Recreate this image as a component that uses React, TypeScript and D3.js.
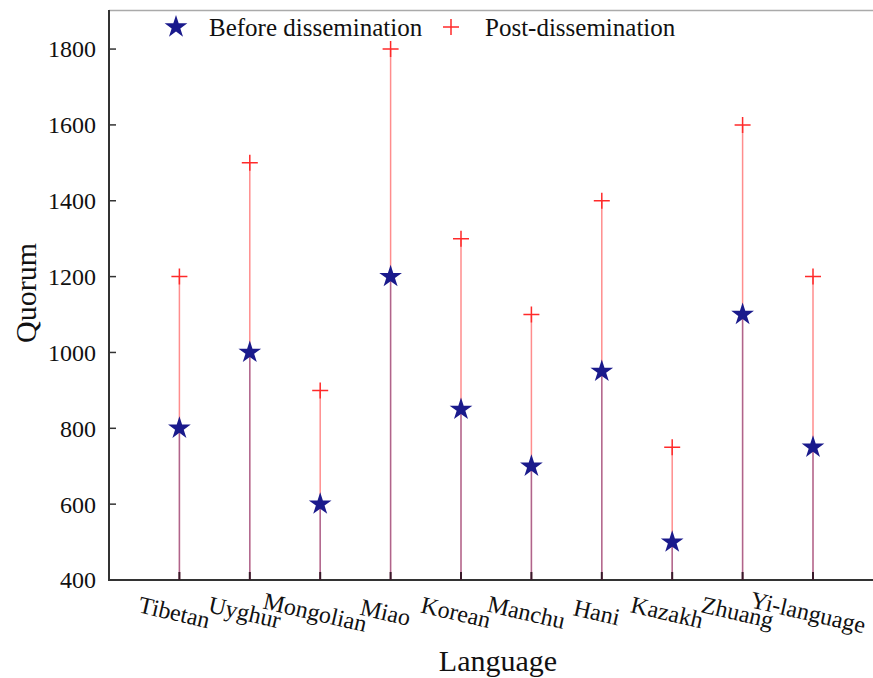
import React, { useEffect, useRef } from 'react';
import * as d3 from 'd3';

const languages = ['Tibetan', 'Uyghur', 'Mongolian', 'Miao', 'Korean', 'Manchu', 'Hani', 'Kazakh', 'Zhuang', 'Yi-language'];
const beforeValues = [800, 1000, 600, 1200, 850, 700, 950, 500, 1100, 750];
const postValues = [1200, 1500, 900, 1800, 1300, 1100, 1400, 750, 1600, 1200];
const yTicks = [400, 600, 800, 1000, 1200, 1400, 1600, 1800];

const App = () => {
  const svgRef = useRef<SVGSVGElement>(null);

  useEffect(() => {
    const width = 873;
    const height = 678;
    const svg = d3.select(svgRef.current);
    svg.selectAll('*').remove();

    const margin = { top: 10, left: 109, bottom: 98 };
    const plotBottom = height - margin.bottom;
    const font = '"Liberation Serif", "Times New Roman", serif';

    // points sit at 1..10, axis runs 0..11 (right edge cut off like the original)
    const x = d3.scaleLinear().domain([0, 11]).range([margin.left, margin.left + 70.4 * 11]);
    const y = d3.scaleLinear().domain([400, 1903]).range([plotBottom, margin.top]);

    const g = svg.append('g');

    // top frame line
    g.append('line')
      .attr('x1', margin.left).attr('x2', width)
      .attr('y1', margin.top + 0.5).attr('y2', margin.top + 0.5)
      .attr('stroke', '#aaa').attr('stroke-width', 1.5);

    // stems
    const idx = d3.range(languages.length);
    g.selectAll('.stem-post')
      .data(idx)
      .enter().append('line')
      .attr('x1', i => x(i + 1)).attr('x2', i => x(i + 1))
      .attr('y1', y(400)).attr('y2', i => y(postValues[i]))
      .attr('stroke', '#ff3030').attr('stroke-opacity', 0.55).attr('stroke-width', 1.5);

    g.selectAll('.stem-before')
      .data(idx)
      .enter().append('line')
      .attr('x1', i => x(i + 1)).attr('x2', i => x(i + 1))
      .attr('y1', y(400)).attr('y2', i => y(beforeValues[i]))
      .attr('stroke', '#1a1a8c').attr('stroke-opacity', 0.35).attr('stroke-width', 1.5);

    // axes
    g.append('line')
      .attr('x1', margin.left).attr('x2', margin.left)
      .attr('y1', margin.top).attr('y2', plotBottom)
      .attr('stroke', '#333').attr('stroke-width', 2);
    g.append('line')
      .attr('x1', margin.left - 1).attr('x2', width)
      .attr('y1', plotBottom).attr('y2', plotBottom)
      .attr('stroke', '#333').attr('stroke-width', 2);

    // y ticks (inward) and labels
    g.selectAll('.ytick')
      .data(yTicks)
      .enter().append('line')
      .attr('x1', margin.left).attr('x2', margin.left + 7)
      .attr('y1', d => y(d)).attr('y2', d => y(d))
      .attr('stroke', '#333').attr('stroke-width', 1.5);
    g.selectAll('.ylabel')
      .data(yTicks)
      .enter().append('text')
      .attr('x', margin.left - 13)
      .attr('y', d => y(d))
      .attr('dy', '0.35em')
      .attr('text-anchor', 'end')
      .style('font-family', font)
      .style('font-size', '24px')
      .attr('fill', '#111')
      .text(d => d);

    // x ticks (inward)
    g.selectAll('.xtick')
      .data(idx)
      .enter().append('line')
      .attr('x1', i => x(i + 1)).attr('x2', i => x(i + 1))
      .attr('y1', plotBottom).attr('y2', plotBottom - 8)
      .attr('stroke', '#3a1a2a').attr('stroke-width', 2);

    // x labels, slanted
    g.selectAll('.xlabel')
      .data(languages)
      .enter().append('text')
      .attr('transform', (d, i) => `translate(${x(i + 1) - 5},${plotBottom + 32}) rotate(13)`)
      .attr('text-anchor', 'middle')
      .attr('dy', '0.35em')
      .style('font-family', font)
      .style('font-size', '24px')
      .attr('fill', '#111')
      .text(d => d);

    // markers
    const star = d3.symbol().type(d3.symbolStar).size(160);
    const plusPath = (s: number) => `M${-s},0H${s}M0,${-s}V${s}`;

    g.selectAll('.post')
      .data(idx)
      .enter().append('path')
      .attr('transform', i => `translate(${x(i + 1)},${y(postValues[i])})`)
      .attr('d', plusPath(8))
      .attr('fill', 'none')
      .attr('stroke', '#ff2a2a')
      .attr('stroke-width', 1.5);

    g.selectAll('.before')
      .data(idx)
      .enter().append('path')
      .attr('transform', i => `translate(${x(i + 1)},${y(beforeValues[i])})`)
      .attr('d', star())
      .attr('fill', '#1a1a8c');

    // legend
    g.append('path')
      .attr('transform', 'translate(176,27)')
      .attr('d', star())
      .attr('fill', '#1a1a8c');
    g.append('text')
      .attr('x', 209).attr('y', 27).attr('dy', '0.35em')
      .style('font-family', font).style('font-size', '25px').attr('fill', '#111')
      .text('Before dissemination');
    g.append('path')
      .attr('transform', 'translate(451,27)')
      .attr('d', plusPath(8))
      .attr('fill', 'none').attr('stroke', '#ff2a2a').attr('stroke-width', 1.5);
    g.append('text')
      .attr('x', 485).attr('y', 27).attr('dy', '0.35em')
      .style('font-family', font).style('font-size', '25px').attr('fill', '#111')
      .text('Post-dissemination');

    // axis titles
    g.append('text')
      .attr('transform', `translate(25,293) rotate(-90)`)
      .attr('text-anchor', 'middle')
      .attr('dy', '0.35em')
      .style('font-family', font).style('font-size', '30px').attr('fill', '#111')
      .text('Quorum');
    g.append('text')
      .attr('x', 498).attr('y', 660).attr('dy', '0.35em')
      .attr('text-anchor', 'middle')
      .style('font-family', font).style('font-size', '30px').attr('fill', '#111')
      .text('Language');
  }, []);

  return (
    <svg
      ref={svgRef}
      width={873}
      height={678}
      style={{ position: 'absolute', left: 0, top: 0, background: '#fff' }}
    />
  );
};

export default App;
